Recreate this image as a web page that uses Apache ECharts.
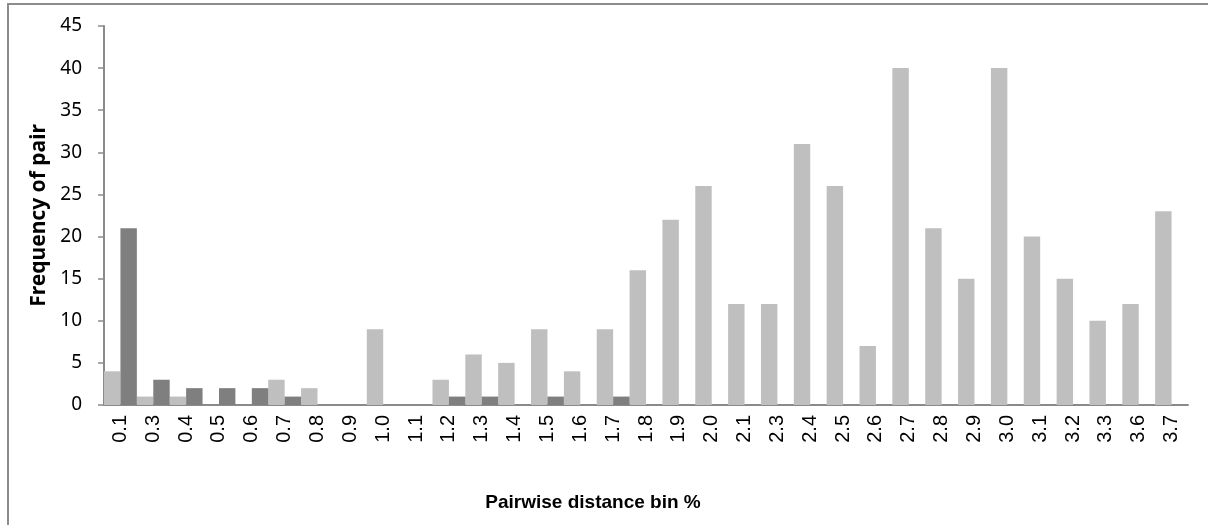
<!DOCTYPE html>
<html>
<head>
<meta charset="utf-8">
<script src="https://cdn.jsdelivr.net/npm/echarts@6/dist/echarts.min.js"></script>
<style>
html,body{margin:0;padding:0;background:#fff;}
#wrap{position:relative;width:1208px;height:525px;overflow:hidden;}
#frame{position:absolute;left:7px;top:3px;width:1300px;height:600px;border-top:2px solid #8c8c8c;border-left:2px solid #8c8c8c;box-sizing:border-box;pointer-events:none;}
#chart{position:absolute;left:0;top:0;width:1208px;height:525px;}
</style>
</head>
<body>
<div id="wrap">
<div id="chart"></div>
<div id="frame"></div>
</div>
<script>
const categories = ['0.1','0.3','0.4','0.5','0.6','0.7','0.8','0.9','1.0','1.1','1.2','1.3','1.4','1.5','1.6','1.7','1.8','1.9','2.0','2.1','2.3','2.4','2.5','2.6','2.7','2.8','2.9','3.0','3.1','3.2','3.3','3.6','3.7'];
const lightValues = [4,1,1,0,0,3,2,0,9,0,3,6,5,9,4,9,16,22,26,12,12,31,26,7,40,21,15,40,20,15,10,12,23];
const darkValues  = [21,3,2,2,2,1,0,0,0,0,1,1,0,1,0,1,0,0,0,0,0,0,0,0,0,0,0,0,0,0,0,0,0];
const yTicks = {min:0, max:45, interval:5};
const xTitle = 'Pairwise distance bin %';
const yTitle = 'Frequency of pair';

const chart = echarts.init(document.getElementById('chart'));
chart.setOption({
  animation:false,
  backgroundColor:'#ffffff',
  grid:{left:104, right:20, top:26, bottom:120, containLabel:false},
  xAxis:{
    type:'category',
    data:categories,
    axisLine:{show:true, lineStyle:{color:'#8a8a8a', width:2}},
    axisTick:{show:false},
    axisLabel:{rotate:90, margin:10, interval:0, fontFamily:'Liberation Sans', fontSize:20, color:'#000'},
    splitLine:{show:false}
  },
  yAxis:{
    type:'value',
    min:yTicks.min, max:yTicks.max, interval:yTicks.interval,
    name:yTitle,
    nameLocation:'middle',
    nameGap:51,
    nameRotate:90,
    nameTextStyle:{fontFamily:'Noto Sans', fontWeight:'bold', fontSize:21, color:'#000'},
    axisLine:{show:true, lineStyle:{color:'#8a8a8a', width:2}},
    axisTick:{show:true, inside:false, length:6, lineStyle:{color:'#8a8a8a', width:1.5}},
    axisLabel:{margin:22, fontFamily:'Noto Sans', fontSize:19, color:'#000'},
    splitLine:{show:false}
  },
  graphic:[{
    type:'text', x:593, y:503,
    style:{text:xTitle, textAlign:'center', textVerticalAlign:'middle', fontFamily:'Liberation Sans', fontWeight:'bold', fontSize:19, fill:'#000'}
  }],
  series:[
    {type:'bar', name:'light', data:lightValues, barGap:'0%', barCategoryGap:'0%',
     itemStyle:{color:'#bfbfbf'}},
    {type:'bar', name:'dark', data:darkValues, barGap:'0%', barCategoryGap:'0%',
     itemStyle:{color:'#7f7f7f'}}
  ]
});
</script>
</body>
</html>
